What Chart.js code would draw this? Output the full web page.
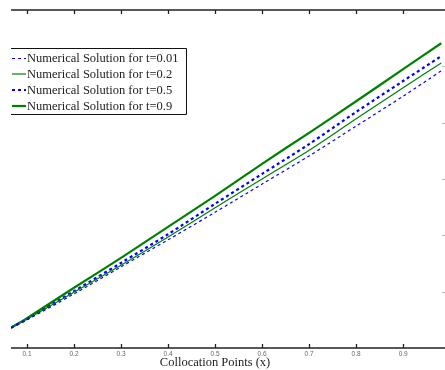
<!DOCTYPE html>
<html><head><meta charset="utf-8">
<script src="https://cdn.jsdelivr.net/npm/chart.js@4.4.1/dist/chart.umd.min.js"></script>
<style>html,body{margin:0;padding:0;background:#fff}#wrap{width:445px;height:370px;position:relative}</style>
</head><body><div id="wrap"><canvas id="c"></canvas></div>
<script>
// collocation points (x)
const xPoints = [0.066, 0.1, 0.2, 0.3, 0.4, 0.5, 0.6, 0.7, 0.8, 0.9, 0.981];
const seriesLabels = [
  'Numerical Solution for t=0.01',
  'Numerical Solution for t=0.2',
  'Numerical Solution for t=0.5',
  'Numerical Solution for t=0.9'
];
const solT001 = [0.036, 0.050, 0.096, 0.144, 0.192, 0.241, 0.291, 0.341, 0.394, 0.447, 0.492];
const solT02  = [0.036, 0.051, 0.099, 0.147, 0.197, 0.249, 0.300, 0.351, 0.407, 0.462, 0.506];
const solT05  = [0.036, 0.051, 0.101, 0.151, 0.202, 0.256, 0.309, 0.362, 0.419, 0.474, 0.518];
const solT09  = [0.036, 0.053, 0.107, 0.160, 0.215, 0.270, 0.327, 0.382, 0.438, 0.495, 0.541];
const xTickValues = [0.1, 0.2, 0.3, 0.4, 0.5, 0.6, 0.7, 0.8, 0.9];
const yTickValues = [0.1, 0.2, 0.3, 0.4, 0.5];
const xAxisTitle = 'Collocation Points (x)';

const pts = arr => arr.map((v, i) => ({x: xPoints[i], y: v}));
const styles = [
  {color: '#0000ff', width: 1.2, dash: [3, 3]},
  {color: '#008000', width: 1.2, dash: []},
  {color: '#0000ff', width: 2.2, dash: [3, 3]},
  {color: '#008000', width: 2.2, dash: []}
];
const allSeries = [solT001, solT02, solT05, solT09];

const datasets = allSeries.map((s, i) => ({
  label: seriesLabels[i],
  data: pts(s),
  borderColor: styles[i].color,
  borderWidth: styles[i].width,
  borderDash: styles[i].dash,
  pointRadius: 0,
  fill: false,
  tension: 0.3
}));

const framePlugin = {
  id: 'frame',
  afterDraw(chart) {
    const {ctx, chartArea: a, scales: {x, y}} = chart;
    ctx.save();
    ctx.strokeStyle = '#222';
    ctx.lineWidth = 1.3;
    ctx.beginPath();
    ctx.moveTo(a.left, a.top); ctx.lineTo(a.right, a.top);
    ctx.moveTo(a.left, a.bottom); ctx.lineTo(a.right, a.bottom);
    xTickValues.forEach(v => {
      const px = Math.round(x.getPixelForValue(v)) + 0.5;
      ctx.moveTo(px, a.top); ctx.lineTo(px, a.top + 4);
      ctx.moveTo(px, a.bottom); ctx.lineTo(px, a.bottom - 4);
    });
    ctx.stroke();
    ctx.strokeStyle = '#bbb';
    ctx.lineWidth = 1;
    ctx.beginPath();
    yTickValues.forEach(v => {
      const py = Math.round(y.getPixelForValue(v)) + 0.5;
      ctx.moveTo(a.right - 3, py); ctx.lineTo(a.right, py);
    });
    ctx.stroke();

    // axis title (centred on the full original axis)
    ctx.fillStyle = '#222';
    ctx.font = '12.5px "Liberation Serif", "Times New Roman", serif';
    ctx.textAlign = 'center';
    ctx.textBaseline = 'middle';
    ctx.fillText(xAxisTitle, x.getPixelForValue(0.5), 362.5);

    // legend box
    const bx = 11, by = 48.5, bw = 175, bh = 66;
    ctx.fillStyle = '#fff';
    ctx.fillRect(bx, by, bw, bh);
    ctx.strokeStyle = '#111';
    ctx.lineWidth = 1;
    ctx.beginPath();
    ctx.moveTo(bx, by); ctx.lineTo(bx + bw + 0.5, by);
    ctx.lineTo(bx + bw + 0.5, by + bh); ctx.lineTo(bx, by + bh);
    ctx.stroke();
    const rows = [58.5, 74, 90, 106];
    ctx.font = '12.5px "Liberation Serif", "Times New Roman", serif';
    ctx.textAlign = 'left';
    ctx.textBaseline = 'middle';
    chart.data.datasets.forEach((d, i) => {
      const ry = rows[i];
      ctx.strokeStyle = d.borderColor;
      ctx.lineWidth = d.borderWidth;
      ctx.setLineDash(d.borderDash);
      ctx.beginPath();
      ctx.moveTo(12, ry); ctx.lineTo(26, ry);
      ctx.stroke();
      ctx.setLineDash([]);
      ctx.fillStyle = '#222';
      ctx.fillText(d.label, 27, ry + 0.5);
    });
    ctx.restore();
  }
};

new Chart(document.getElementById('c'), {
  type: 'line',
  data: {datasets},
  plugins: [framePlugin],
  options: {
    responsive: true,
    maintainAspectRatio: false,
    animation: false,
    layout: {padding: {left: 11, top: 10, right: 0, bottom: 0}},
    plugins: {legend: {display: false}, tooltip: {enabled: false}},
    scales: {
      x: {
        type: 'linear',
        min: 0.066,
        max: 0.989,
        afterBuildTicks: s => { s.ticks = xTickValues.map(v => ({value: v})); },
        afterFit: s => { s.height = 22; },
        grid: {display: false, drawTicks: false},
        border: {display: false},
        ticks: {
          font: {family: '"Liberation Sans", Arial, sans-serif', size: 6.5},
          color: '#666',
          padding: 2,
          maxRotation: 0,
          callback: v => String(v)
        },
        title: {display: false}
      },
      y: {
        display: false,
        min: 0,
        max: 0.6
      }
    }
  }
});
</script>
</body></html>
